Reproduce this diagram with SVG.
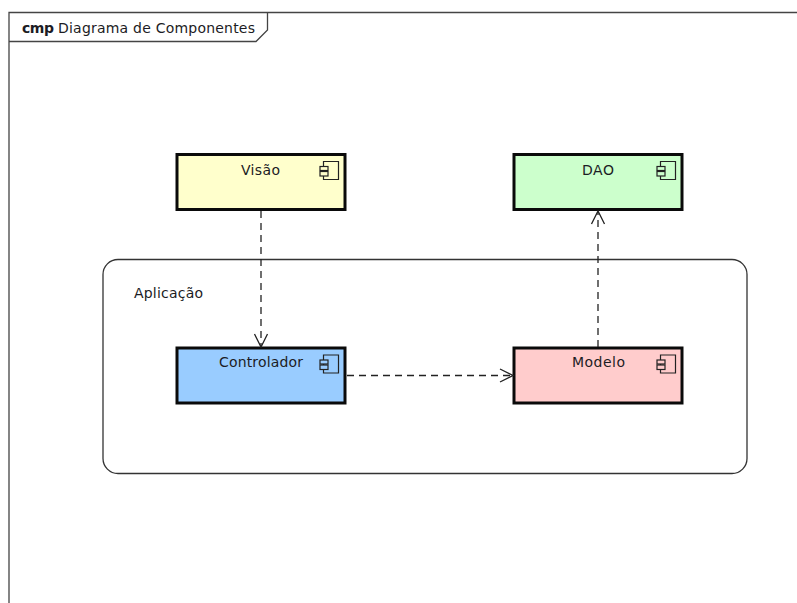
<svg xmlns="http://www.w3.org/2000/svg" width="797" height="603" viewBox="0 0 797 603">
<defs>
<style>
text{font-family:"DejaVu Sans","Liberation Sans",sans-serif;font-size:14px;fill:#1c1c24}
.box{stroke:#0a0a0a;stroke-width:3}
.ico{fill:none;stroke:#222;stroke-width:1.200}
.conn{fill:none;stroke:#222;stroke-width:1.300;stroke-dasharray:7 5}
.head{fill:none;stroke:#222;stroke-width:1.300}
</style>
<g id="ic"><path class="ico" d="M4 5V0H19V18H4V14.500M4 10V9"/><rect class="ico" x="0.500" y="5" width="8" height="4"/><rect class="ico" x="0.500" y="10" width="8" height="4.500"/></g>
</defs>
<rect width="797" height="603" fill="#fff"/>
<g id="frame">
<path d="M9 603V12.500H797" fill="none" stroke="#444" stroke-width="1.300"/>
<path d="M9 41.500H256L267.500 30V12.500" fill="none" stroke="#444" stroke-width="1.300"/>
<text x="22" y="33" style="font-weight:bold" textLength="32">cmp</text>
<text x="58" y="33" textLength="197">Diagrama de Componentes</text>
</g>
<g id="aplicacao">
<rect x="103" y="259.500" width="644" height="214" rx="15" fill="#fff" stroke="#333" stroke-width="1.300"/>
<text x="134" y="298" textLength="69">Aplicação</text>
</g>
<g id="visao">
<rect class="box" x="177" y="154.500" width="168" height="55" fill="#ffffcc"/>
<text x="241" y="174.500" textLength="39">Visão</text>
<use href="#ic" x="319.500" y="161.500"/>
</g>
<g id="dao">
<rect class="box" x="514" y="154.500" width="168" height="55" fill="#ccffcc"/>
<text x="582" y="174.500" textLength="32">DAO</text>
<use href="#ic" x="656.500" y="161.500"/>
</g>
<g id="controlador">
<rect class="box" x="177" y="348" width="168" height="55" fill="#99ccff"/>
<text x="219" y="367" textLength="84">Controlador</text>
<use href="#ic" x="319.500" y="355"/>
</g>
<g id="modelo">
<rect class="box" x="514" y="348" width="168" height="55" fill="#ffcccc"/>
<text x="572" y="367" textLength="53">Modelo</text>
<use href="#ic" x="656.500" y="355"/>
</g>
<g id="connectors">
<path class="conn" d="M261 211V346"/>
<path class="head" d="M254.500 334L261 347L267.500 334"/>
<path class="conn" d="M347 375.500H512"/>
<path class="head" d="M500 369L513 375.500L500 382"/>
<path class="conn" d="M598 347V212"/>
<path class="head" d="M591.500 224L598 211L604.500 224"/>
</g>
</svg>
